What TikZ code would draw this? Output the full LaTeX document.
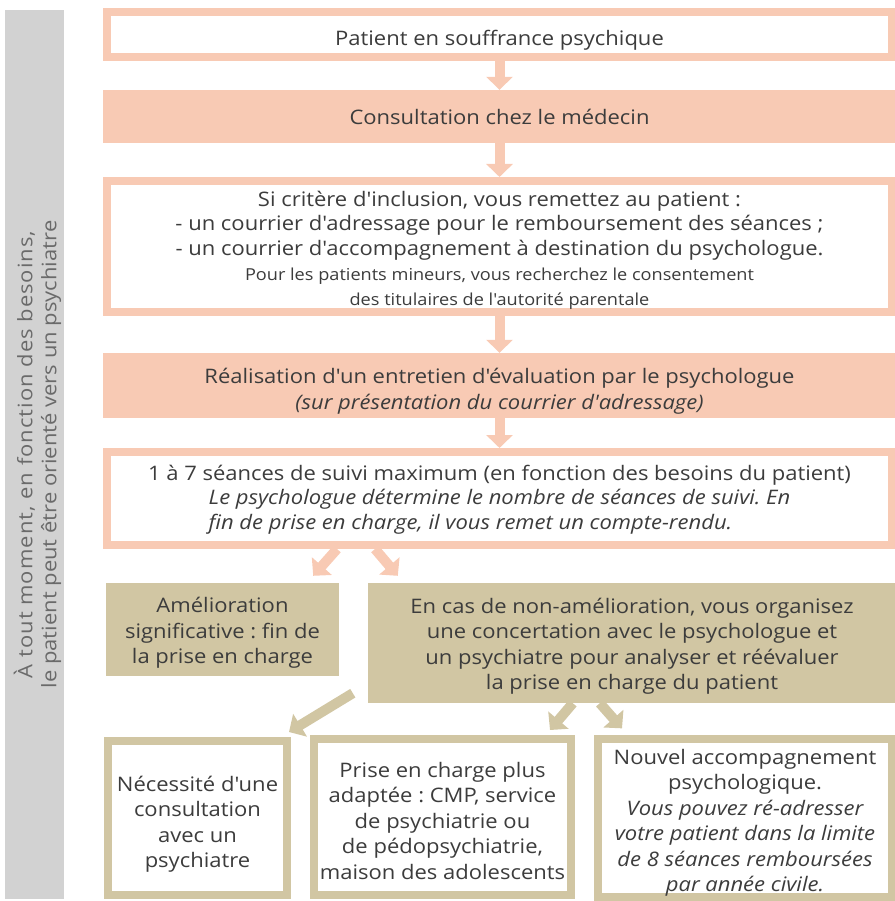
\documentclass[tikz,border=0pt]{standalone}
\usepackage{fontspec}
\setmainfont{Open Sans}[FakeStretch=1.1, Ligatures=TeXOff]
\usetikzlibrary{arrows.meta}
\definecolor{pinkc}{HTML}{F8CAB4}
\definecolor{tanc}{HTML}{D1C6A3}
\definecolor{textc}{HTML}{3C3C3C}
\definecolor{grayc}{HTML}{D2D2D2}
\definecolor{sidetext}{HTML}{6A6A6A}
\newcommand{\strutto}[1]{\rule{0pt}{#1}}
\frenchspacing

\begin{document}
\begin{tikzpicture}[x=1pt, y=-1pt,
	every node/.style={text=textc, font=\fontsize{20}{25.5}\selectfont, align=center, inner sep=0pt},
	pink box/.style={draw=pinkc, line width=8pt, fill=white},
	pink fill/.style={fill=pinkc},
	tan box/.style={draw=tanc, line width=8pt, fill=white},
	tan fill/.style={fill=tanc},
	pink arrow/.style={draw=pinkc, line width=10pt, -{Triangle[width=26pt,length=13pt]}},
	tan arrow/.style={draw=tanc, line width=10pt, -{Triangle[width=26pt,length=13pt]}}]
	
	\useasboundingbox (0,0) rectangle (894,901);
	
	% bandeau lateral
	\node[fill=grayc, rotate=90, minimum width=889pt, minimum height=59pt, text=sidetext,
		font=\fontsize{20}{24}\selectfont] (side) at (34.5,454.5)
		{\strutto{24.6pt}{\addfontfeature{LetterSpace=5}\`A tout moment, en fonction des besoins,}\\
		 le patient peut \^etre orient\'e vers un psychiatre};
	
	\node[pink box, minimum width=785pt, minimum height=45pt] (patient) at (499.5,34.5)
		{\strutto{27pt}Patient en souffrance psychique};
	\node[pink fill, minimum width=793pt, minimum height=53pt] (medecin) at (499.5,116.5) {Consultation chez le médecin};
	\node[pink box, minimum width=785pt, minimum height=131pt, font=\fontsize{20}{24.5}\selectfont] (criteres) at (499.5,246.5)
		{\strutto{22pt}Si critère d'inclusion, vous remettez au patient :\\
		 - un courrier d'adressage pour le remboursement des séances ;\\
		 - un courrier d'accompagnement à destination du psychologue.\\[1pt]
		 \fontsize{16.5}{23}\selectfont Pour les patients mineurs, vous recherchez le consentement\\
		 \fontsize{16.5}{23}\selectfont des titulaires de l'autorité parentale};
	\node[pink fill, minimum width=793pt, minimum height=65pt] (entretien) at (499.5,385.5)
		{\strutto{26.6pt}Réalisation d'un entretien d'évaluation par le psychologue\\
		 \textit{(sur présentation du courrier d'adressage)}};
	\node[pink box, minimum width=785pt, minimum height=93pt] (suivi) at (499.5,498.5)
		{\strutto{21pt}1 à 7 séances de suivi maximum (en fonction des besoins du patient)\\
		 \begin{tabular}{@{}l@{}}\itshape Le psychologue détermine le nombre de séances de suivi. En\\
		 \itshape fin de prise en charge, il vous remet un compte-rendu.\end{tabular}};
	
	\node[tan fill, minimum width=233pt, minimum height=93pt] (amelio) at (222.5,629.5)
		{\strutto{22pt}Amélioration\\ significative : fin de\\ la prise en charge};
	\node[tan fill, minimum width=528pt, minimum height=120pt] (nonamelio) at (632,643)
		{\strutto{22pt}En cas de non-amélioration, vous organisez\\ une concertation avec le psychologue et\\
		 un psychiatre pour analyser et réévaluer\\ la prise en charge du patient};
	
	\node[tan box, minimum width=179pt, minimum height=154pt] (psychiatre) at (197.5,818)
		{\strutto{28pt}Nécessité d'une\\ consultation\\ avec un\\ psychiatre};
	\node[tan box, minimum width=257pt, minimum height=156pt] (adaptee) at (442.5,817)
		{\strutto{23pt}Prise en charge plus\\ adaptée : CMP, service\\ de psychiatrie ou\\ de pédopsychiatrie,\\ maison des adolescents};
	\node[tan box, minimum width=294pt, minimum height=154pt] (nouvel) at (745,818)
		{\strutto{25pt}Nouvel accompagnement\\ psychologique.\\ \itshape Vous pouvez ré-adresser\\
		 \itshape votre patient dans la limite\\ \itshape de 8 séances remboursées\\ \itshape par année civile.};
	
	\path (patient) edge[pink arrow] (medecin)
		(medecin) edge[pink arrow] (criteres)
		(criteres) edge[pink arrow] (entretien)
		(entretien) edge[pink arrow] (suivi);
	
	\draw[pink arrow] ([xshift=234pt]suivi.south west) -- ([xshift=-26pt,yshift=7pt]amelio.north east);
	\draw[pink arrow] ([xshift=272pt]suivi.south west) -- ([xshift=30pt,yshift=7pt]nonamelio.north west);
	
	\draw[tan arrow] ([xshift=-15pt,yshift=10pt]nonamelio.south west) -- ([xshift=-2pt,yshift=5pt]psychiatre.north east);
	\draw[tan arrow] ([xshift=205pt]nonamelio.south west) -- ([xshift=-25pt,yshift=5pt]adaptee.north east);
	\draw[tan arrow] ([xshift=232pt]nonamelio.south west) -- ([xshift=28pt,yshift=7pt]nouvel.north west);
	
\end{tikzpicture}
\end{document}
